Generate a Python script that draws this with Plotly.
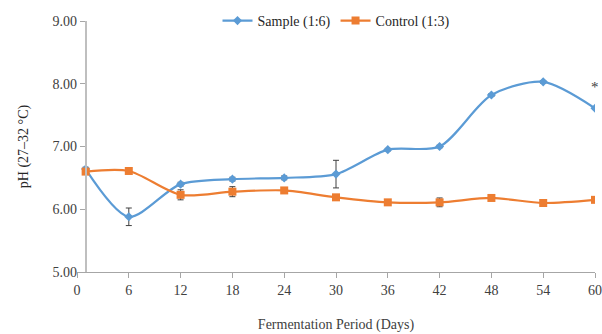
import plotly.graph_objects as go

days = [1, 6, 12, 18, 24, 30, 36, 42, 48, 54, 60]
sample_ph = [6.64, 5.88, 6.40, 6.48, 6.50, 6.56, 6.95, 7.00, 7.82, 8.03, 7.61]
sample_err = [0.03, 0.14, 0.03, 0.03, 0.03, 0.22, 0.02, 0.02, 0.02, 0.02, 0.02]
control_ph = [6.60, 6.61, 6.23, 6.28, 6.30, 6.19, 6.11, 6.11, 6.18, 6.10, 6.15]
control_err = [0.02, 0.02, 0.08, 0.08, 0.02, 0.02, 0.02, 0.07, 0.02, 0.02, 0.02]
x_ticks = list(range(0, 61, 6))
y_ticks = [5, 6, 7, 8, 9]
y_tick_labels = ["5.00", "6.00", "7.00", "8.00", "9.00"]
marker_day, marker_ph, marker_text = 60, 7.95, "*"

FONT = "Liberation Serif"
BLUE = "#5B9BD5"
ORANGE = "#ED7D31"

fig = go.Figure()
fig.add_trace(go.Scatter(
    x=days, y=sample_ph, name="Sample (1:6)", mode="lines+markers",
    line=dict(color=BLUE, width=2.2, shape="spline", smoothing=0.8),
    marker=dict(symbol="diamond", size=7, color=BLUE),
    error_y=dict(type="data", array=sample_err, color="#404040", thickness=1, width=3),
))
fig.add_trace(go.Scatter(
    x=days, y=control_ph, name="Control (1:3)", mode="lines+markers",
    line=dict(color=ORANGE, width=2.2, shape="spline", smoothing=0.8),
    marker=dict(symbol="square", size=8, color=ORANGE),
    error_y=dict(type="data", array=control_err, color="#404040", thickness=1, width=3),
))

fig.add_annotation(x=marker_day, y=marker_ph, text=marker_text, showarrow=False,
                   font=dict(family=FONT, size=15, color="#404040"))

fig.update_layout(
    width=602, height=334,
    margin=dict(l=77, r=7, t=21, b=62, autoexpand=False),
    paper_bgcolor="white", plot_bgcolor="white",
    font=dict(family=FONT, size=14, color="#404040"),
    showlegend=True,
    legend=dict(orientation="h", x=0.5, xanchor="center", y=1.0, yanchor="middle",
                font=dict(family=FONT, size=14, color="#262626"),
                bgcolor="rgba(0,0,0,0)", itemwidth=30, traceorder="normal"),
    xaxis=dict(range=[0, 60], tickvals=x_ticks, showgrid=False, zeroline=False,
               automargin=False,
               showline=True, linecolor="#A6A6A6", linewidth=1,
               ticks="outside", ticklen=5, tickcolor="#A6A6A6",
               tickfont=dict(family=FONT, size=14, color="#404040"),
               title=dict(text="Fermentation Period (Days)", standoff=22,
                          font=dict(family=FONT, size=14, color="#404040"))),
    yaxis=dict(range=[5, 9], tickvals=y_ticks, ticktext=y_tick_labels,
               showgrid=False, zeroline=False, automargin=False,
               anchor="free", position=1 / 60,
               showline=True, linecolor="#BFBFBF", linewidth=1.5,
               ticks="outside", ticklen=5, tickcolor="#A6A6A6",
               tickfont=dict(family=FONT, size=14, color="#404040"),
               title=dict(text="pH (27–32 °C)", standoff=20,
                          font=dict(family=FONT, size=14, color="#262626"))),
)

fig.write_html("out.html", config={"displayModeBar": False},
               post_script="document.body.style.margin='0';")
